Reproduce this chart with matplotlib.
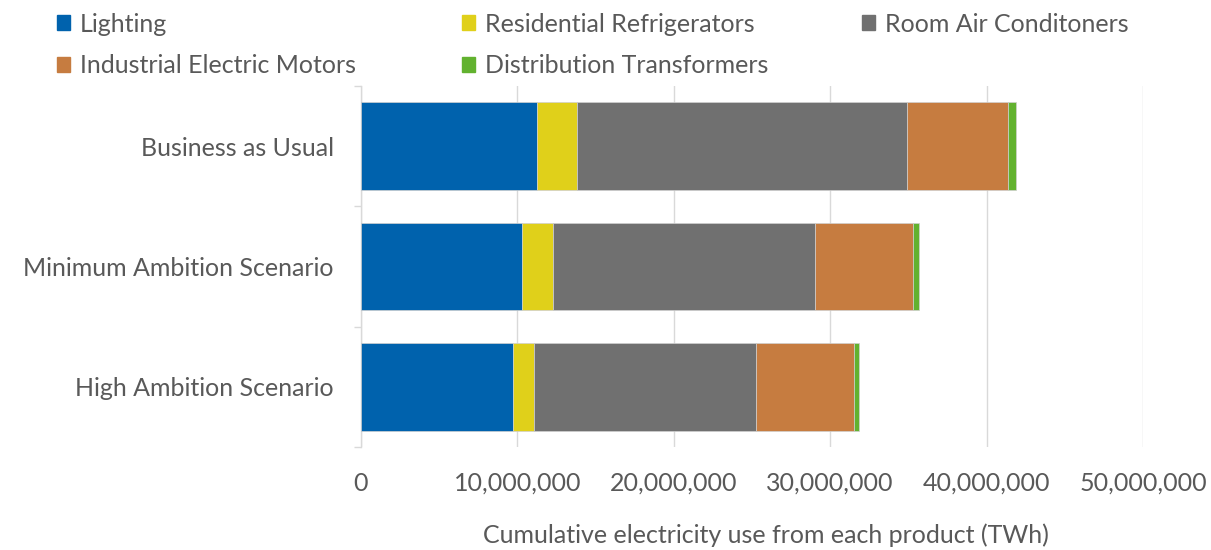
import numpy as np
import matplotlib
matplotlib.use("Agg")
import matplotlib.pyplot as plt
from matplotlib.patches import Patch

plt.rcParams['font.family'] = ['Lato', 'DejaVu Sans']

scenarios = ['Business as Usual', 'Minimum Ambition Scenario', 'High Ambition Scenario']
products = ['Lighting', 'Residential Refrigerators', 'Room Air Conditoners',
            'Industrial Electric Motors', 'Distribution Transformers']
colors = ['#0062AD', '#E0D01A', '#707070', '#C67C40', '#62B22F']

# electricity use per product, one value per scenario
lighting = [11250000, 10280000, 9730000]
refrigerators = [2550000, 1990000, 1340000]
air_conditioners = [21100000, 16760000, 14190000]
motors = [6500000, 6270000, 6250000]
transformers = [450000, 380000, 340000]
series = [lighting, refrigerators, air_conditioners, motors, transformers]

xticks = [0, 10000000, 20000000, 30000000, 40000000, 50000000]
text_col = '#595959'
fs = 18

fig = plt.figure(figsize=(12.11, 5.5), dpi=100)
ax = fig.add_axes([361/1211, 103/550, (1143-361)/1211, (447-86)/550])

y = np.arange(len(scenarios))
left = np.zeros(len(scenarios))
for vals, col, name in zip(series, colors, products):
    ax.barh(y, vals, left=left, height=0.726, color=col, label=name,
            edgecolor='#d0d0d0', linewidth=0.5, zorder=3)
    left += np.array(vals)

ax.set_ylim(2.5, -0.5)
ax.set_xlim(0, 50000000)
ax.set_yticks(y)
ax.set_yticklabels(scenarios)
ax.set_yticks([-0.5, 0.5, 1.5, 2.5], minor=True)
ax.tick_params(axis='y', which='major', length=0, pad=19.5, labelsize=fs, labelcolor=text_col)
ax.tick_params(axis='y', which='minor', length=5, width=1, color='#d9d9d9')
ax.set_xticks(xticks)
ax.set_xticklabels(['{:,}'.format(v) for v in xticks])
ax.tick_params(axis='x', length=0, pad=18, labelsize=fs, labelcolor=text_col)
ax.grid(axis='x', color='#d9d9d9', linewidth=1, zorder=0)
for s in ['top', 'right', 'bottom']:
    ax.spines[s].set_visible(False)
ax.spines['left'].set_color('#d9d9d9')
ax.spines['left'].set_linewidth(1)

ax.set_xlabel('Cumulative electricity use from each product (TWh)', fontsize=fs,
              color=text_col)
ax.xaxis.label.set_va('center')
ax.xaxis.set_label_coords((766-361)/(1143-361), (447-535)/361)

# legend in three columns like the original
handles = [Patch(color=c) for c in colors]
cols = [[0, 3], [1, 4], [2]]
xs = [44, 449, 849]
for idx, x0 in zip(cols, xs):
    fig.legend([handles[i] for i in idx], [products[i] for i in idx],
               loc='upper left', bbox_to_anchor=(x0/1211, 1.0), frameon=False,
               fontsize=fs, labelcolor=text_col, handlelength=0.55, handleheight=0.55,
               handletextpad=0.4, labelspacing=0.75, borderaxespad=0.1)

fig.savefig('out.png', dpi=100)
